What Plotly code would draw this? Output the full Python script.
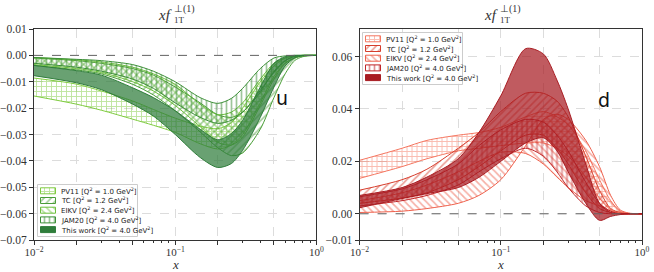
import plotly.graph_objects as go
from plotly.subplots import make_subplots

# ---------------- data ----------------
X = [0.01, 0.02, 0.03, 0.05, 0.07, 0.1, 0.15, 0.2, 0.25, 0.3, 0.4, 0.5, 0.6, 0.7, 0.8, 1.0]

# u quark (left panel)
u_pv11_lo = [-0.0154, -0.0185, -0.0208, -0.0242, -0.0265, -0.0292, -0.0335, -0.0355, -0.034, -0.030, -0.018, -0.008, -0.003, -0.001, -0.0002, 0]
u_pv11_hi = [-0.0086, -0.0109, -0.0135, -0.0173, -0.0205, -0.0238, -0.0268, -0.0278, -0.0255, -0.020, -0.010, -0.004, -0.001, -0.0002, 0, 0]
u_tc_lo = [-0.0038, -0.0055, -0.007, -0.011, -0.015, -0.021, -0.029, -0.035, -0.038, -0.037, -0.028, -0.016, -0.007, -0.002, -0.0005, 0]
u_tc_hi = [-0.001, -0.002, -0.003, -0.005, -0.0075, -0.012, -0.018, -0.0225, -0.0235, -0.0215, -0.014, -0.006, -0.002, -0.0004, 0, 0]
u_eikv_lo = [-0.0035, -0.005, -0.0065, -0.010, -0.0135, -0.019, -0.027, -0.033, -0.034, -0.031, -0.019, -0.009, -0.003, -0.001, -0.0002, 0]
u_eikv_hi = [-0.0008, -0.0017, -0.0025, -0.0045, -0.007, -0.011, -0.0185, -0.0225, -0.0215, -0.018, -0.009, -0.003, -0.001, -0.0002, 0, 0]
u_jam_lo = [-0.003, -0.0045, -0.006, -0.009, -0.0125, -0.018, -0.0235, -0.0258, -0.0246, -0.0216, -0.0133, -0.0064, -0.002, -0.0004, 0, 0]
u_jam_hi = [-0.0008, -0.0015, -0.002, -0.0035, -0.006, -0.010, -0.016, -0.0182, -0.0163, -0.0125, -0.005, -0.001, -0.0002, 0, 0, 0]
u_work_lo = [-0.0077, -0.0104, -0.013, -0.0185, -0.023, -0.030, -0.0387, -0.0425, -0.041, -0.036, -0.0235, -0.012, -0.004, -0.001, -0.0002, 0]
u_work_hi = [-0.0038, -0.0058, -0.0075, -0.0123, -0.016, -0.021, -0.028, -0.032, -0.0296, -0.0246, -0.012, -0.003, -0.0005, 0, 0, 0]

# d quark (right panel)
d_pv11_lo = [0.0135, 0.018, 0.021, 0.024, 0.025, 0.026, 0.027, 0.027, 0.025, 0.022, 0.014, 0.006, 0.0015, 0.0002, 0, 0]
d_pv11_hi = [0.0204, 0.025, 0.028, 0.030, 0.031, 0.033, 0.037, 0.039, 0.037, 0.034, 0.024, 0.013, 0.005, 0.001, 0.0002, 0]
d_tc_lo = [0.004, 0.006, 0.008, 0.013, 0.018, 0.024, 0.030, 0.030, 0.025, 0.019, 0.008, 0.002, 0.0005, 0, 0, 0]
d_tc_hi = [0.009, 0.013, 0.017, 0.025, 0.031, 0.039, 0.046, 0.046, 0.043, 0.037, 0.022, 0.009, 0.002, 0.0005, 0, 0]
d_eikv_lo = [0.0005, 0.001, 0.002, 0.004, 0.007, 0.013, 0.026, 0.036, 0.038, 0.036, 0.028, 0.018, 0.007, 0.0015, 0.0003, 0]
d_eikv_hi = [0.005, 0.008, 0.011, 0.016, 0.020, 0.0235, 0.023, 0.019, 0.014, 0.010, 0.005, 0.003, 0.001, 0.0002, 0, 0]
d_jam_lo = [0.003, 0.005, 0.007, 0.011, 0.016, 0.021, 0.025, 0.022, 0.016, 0.010, 0.003, 0.0005, 0, 0, 0, 0]
d_jam_hi = [0.0065, 0.0095, 0.013, 0.019, 0.026, 0.032, 0.036, 0.035, 0.030, 0.024, 0.012, 0.004, 0.001, 0, 0, 0]
d_work_lo = [0.0023, 0.0058, 0.0077, 0.010, 0.0139, 0.020, 0.027, 0.029, 0.024, 0.016, 0.004, -0.0025, -0.001, -0.0003, 0, 0]
d_work_hi = [0.007, 0.010, 0.014, 0.021, 0.031, 0.045, 0.063, 0.061, 0.051, 0.040, 0.019, 0.004, 0.0005, 0, 0, 0]

labels = ["PV11 [Q<sup>2</sup> = 1.0 GeV<sup>2</sup>]",
          "TC [Q<sup>2</sup> = 1.2 GeV<sup>2</sup>]",
          "EIKV [Q<sup>2</sup> = 2.4 GeV<sup>2</sup>]",
          "JAM20 [Q<sup>2</sup> = 4.0 GeV<sup>2</sup>]",
          "This work [Q<sup>2</sup> = 4.0 GeV<sup>2</sup>]"]
patterns = ["+", "/", "\\", "|", ""]

u_colors = ["#7fcb40", "#4a9d38", "#6cbf3c", "#3b8e36", "#2f7d3b"]
d_colors = ["#f47660", "#d63d2c", "#ee604c", "#bf2629", "#a81c22"]
u_work_fill = "rgba(47,125,59,0.72)"
d_work_fill = "rgba(168,28,34,0.72)"

u_bands = [(u_pv11_lo, u_pv11_hi), (u_tc_lo, u_tc_hi), (u_eikv_lo, u_eikv_hi), (u_jam_lo, u_jam_hi), (u_work_lo, u_work_hi)]
d_bands = [(d_pv11_lo, d_pv11_hi), (d_tc_lo, d_tc_hi), (d_eikv_lo, d_eikv_hi), (d_jam_lo, d_jam_hi), (d_work_lo, d_work_hi)]

# ---------------- layout geometry (pixels) ----------------
W, H = 654, 272
L, R, T, B = 34, 12, 29, 32
PW, PH = W - L - R, H - T - B


def px2paper_x(px):
    return (px - L) / PW


def px2paper_y(py):
    return (H - B - py) / PH


fig = make_subplots(rows=1, cols=2, horizontal_spacing=0.0708)


def fill_kw(pattern, color, work_fill):
    if pattern:
        return dict(fillcolor="rgba(0,0,0,0)",
                    fillpattern=dict(shape=pattern, fgcolor=color, bgcolor="rgba(0,0,0,0)",
                                     size=5, solidity=0.34, fillmode="overlay"))
    return dict(fillcolor=work_fill)


def add_band(lo, hi, color, pattern, col, work_fill):
    ln = dict(color=color, width=1, shape="spline", smoothing=0.8)
    fig.add_trace(go.Scatter(x=X, y=lo, mode="lines", line=ln, showlegend=False,
                             hoverinfo="skip"), row=1, col=col)
    fig.add_trace(go.Scatter(x=X, y=hi, mode="lines", line=ln, showlegend=False,
                             hoverinfo="skip", fill="tonexty",
                             **fill_kw(pattern, color, work_fill)), row=1, col=col)


for i in range(5):
    add_band(*u_bands[i], u_colors[i], patterns[i], 1, u_work_fill)
for i in range(5):
    add_band(*d_bands[i], d_colors[i], patterns[i], 2, d_work_fill)

serif = "Liberation Serif"
major = [0.01, 0.02, 0.05, 0.1, 0.2, 0.5, 1.0]
major_txt = ["10<sup>−2</sup>", "", "", "10<sup>−1</sup>", "", "", "10<sup>0</sup>"]
minor = [0.03, 0.04, 0.06, 0.07, 0.08, 0.09, 0.3, 0.4, 0.6, 0.7, 0.8, 0.9]

xax = dict(type="log", range=[-2, 0], tickmode="array", tickvals=major, ticktext=major_txt,
           ticks="outside", ticklen=4, tickcolor="#333", showline=True, mirror=True,
           linecolor="#333", linewidth=1, showgrid=True, gridcolor="#dcdcdc", griddash="dash",
           gridwidth=0.8, zeroline=False, tickfont=dict(family=serif, size=11, color="#333"),
           ticklabelstandoff=-2, automargin=False,
           minor=dict(tickvals=minor, ticks="outside", ticklen=2, tickcolor="#333", showgrid=False))
fig.update_xaxes(**xax, row=1, col=1)
fig.update_xaxes(**xax, row=1, col=2)

yax = dict(ticks="outside", ticklen=4, tickcolor="#333", showline=True, mirror=True,
           linecolor="#333", linewidth=1, showgrid=True, gridcolor="#dcdcdc", griddash="dash",
           gridwidth=0.8, zeroline=False, tickformat=".2f", automargin=False,
           tickfont=dict(family=serif, size=11.5, color="#333"))
fig.update_yaxes(**yax, range=[-0.07, 0.01], tickmode="array",
                 tickvals=[-0.07, -0.06, -0.05, -0.04, -0.03, -0.02, -0.01, 0.0, 0.01], row=1, col=1)
fig.update_yaxes(**yax, range=[-0.01, 0.0705], tickmode="array",
                 tickvals=[-0.01, 0.0, 0.02, 0.04, 0.06], row=1, col=2)

# dashed zero lines
for xr, yr in (("x", "y"), ("x2", "y2")):
    fig.add_shape(type="line", xref=xr + " domain", yref=yr, x0=0, x1=1, y0=0, y1=0,
                  line=dict(color="#666", width=1, dash="dash"))

# titles  x f^{⊥(1)}_{1T}  and x-axis labels
for xr in ("x domain", "x2 domain"):
    fig.add_annotation(text="<i>xf</i>", xref=xr, yref="paper", x=0.5, y=px2paper_y(15),
                       xanchor="right", yanchor="middle", xshift=-1, showarrow=False,
                       font=dict(family=serif, size=15, color="#333"))
    fig.add_annotation(text="⊥(1)", xref=xr, yref="paper", x=0.5, y=px2paper_y(9.5),
                       xanchor="left", yanchor="middle", xshift=-3, showarrow=False,
                       font=dict(family=serif, size=10, color="#333"))
    fig.add_annotation(text="1T", xref=xr, yref="paper", x=0.5, y=px2paper_y(20.5),
                       xanchor="left", yanchor="middle", xshift=-3, showarrow=False,
                       font=dict(family=serif, size=9, color="#333"))
    fig.add_annotation(text="<i>x</i>", xref=xr, yref="paper", x=0.5, y=px2paper_y(264.5),
                       xanchor="center", yanchor="middle", showarrow=False,
                       font=dict(family=serif, size=13, color="#333"))

fig.add_annotation(text="u", xref="x domain", yref="y", x=0.905, y=-0.016, showarrow=False,
                   font=dict(family="DejaVu Sans", size=19, color="#111"))
fig.add_annotation(text="d", xref="x2 domain", yref="y2", x=0.895, y=0.0435, showarrow=False,
                   font=dict(family="DejaVu Sans", size=19, color="#111"))

# ---------------- compact legends on overlay axes (pixel units) ----------------
BOX_W, BOX_H = 101, 53
ROWS = [6.8, 16.5, 26.2, 35.9, 45.6]


def add_legend(ax_id, box_left, box_top, colors, work_fill):
    xa, ya = "x" + ax_id, "y" + ax_id
    fig.update_layout(**{
        "xaxis" + ax_id: dict(domain=[px2paper_x(box_left), px2paper_x(box_left + BOX_W)],
                              range=[0, BOX_W], visible=False, anchor=ya, fixedrange=True,
                              automargin=False),
        "yaxis" + ax_id: dict(domain=[px2paper_y(box_top + BOX_H), px2paper_y(box_top)],
                              range=[BOX_H, 0], visible=False, anchor=xa, fixedrange=True,
                              automargin=False),
    })
    fig.add_trace(go.Scatter(x=[0.5, BOX_W - 0.5, BOX_W - 0.5, 0.5, 0.5],
                             y=[0.5, 0.5, BOX_H - 0.5, BOX_H - 0.5, 0.5],
                             xaxis=xa, yaxis=ya, mode="lines", fill="toself",
                             fillcolor="rgba(255,255,255,0.85)",
                             line=dict(color="#cccccc", width=1),
                             showlegend=False, hoverinfo="skip"))
    for i, yc in enumerate(ROWS):
        fig.add_trace(go.Scatter(x=[3.5, 18.5, 18.5, 3.5, 3.5],
                                 y=[yc - 3, yc - 3, yc + 3, yc + 3, yc - 3],
                                 xaxis=xa, yaxis=ya, mode="lines", fill="toself",
                                 line=dict(color=colors[i], width=1),
                                 showlegend=False, hoverinfo="skip",
                                 **fill_kw(patterns[i], colors[i],
                                           colors[i] if not patterns[i] else work_fill)))
        fig.add_annotation(text=labels[i], xref=xa, yref=ya, x=22, y=yc, xanchor="left",
                           yanchor="middle", showarrow=False,
                           font=dict(family="DejaVu Sans", size=7, color="#222"))


add_legend("3", 37, 184, u_colors, u_work_fill)
add_legend("4", 362, 32, d_colors, d_work_fill)

fig.update_layout(
    width=W, height=H,
    margin=dict(l=L, r=R, t=T, b=B, autoexpand=False),
    paper_bgcolor="white", plot_bgcolor="rgba(0,0,0,0)",
    showlegend=False,
)

# remove the default 8px page margin so the figure fills the window exactly
fig.write_html("out.html", config={"displayModeBar": False},
               post_script="document.body.style.margin='0px';")
